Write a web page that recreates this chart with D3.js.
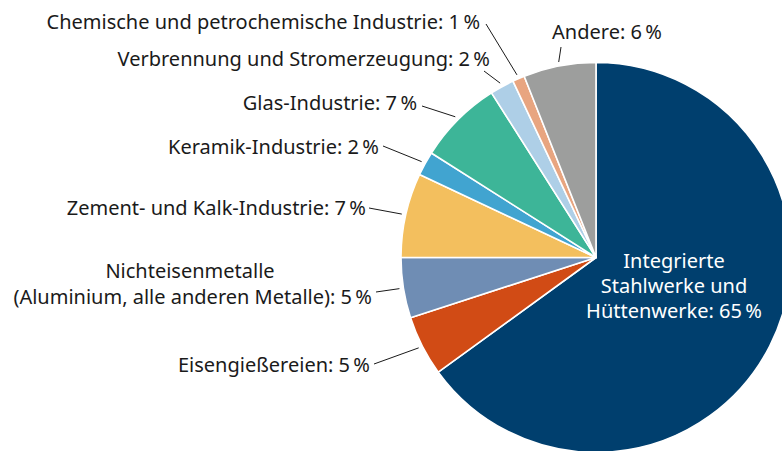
<!DOCTYPE html>
<html lang="de">
<head>
<meta charset="utf-8">
<script src="https://cdn.jsdelivr.net/npm/d3@7"></script>
<style>
  html, body { margin: 0; padding: 0; background: #fff; }
  svg { display: block; font-family: "Noto Sans", "Open Sans", sans-serif; }
</style>
</head>
<body>
<svg id="chart" width="782" height="451"></svg>
<script>
// Sectors, in clockwise order from 12 o'clock
const categories = [
  "Integrierte Stahlwerke und Hüttenwerke",
  "Eisengießereien",
  "Nichteisenmetalle (Aluminium, alle anderen Metalle)",
  "Zement- und Kalk-Industrie",
  "Keramik-Industrie",
  "Glas-Industrie",
  "Verbrennung und Stromerzeugung",
  "Chemische und petrochemische Industrie",
  "Andere"
];
const shares = [65, 5, 5, 7, 2, 7, 2, 1, 6];
const colors = ["#003f6e", "#d14b15", "#6f8db4", "#f3bf5e", "#41a4d0",
                "#3db598", "#aecfe7", "#e8a580", "#9d9e9d"];

// Label text lines per sector
const labelLines = [
  ["Integrierte", "Stahlwerke und", "Hüttenwerke: 65\u202F%"],
  ["Eisengießereien: 5\u202F%"],
  ["Nichteisenmetalle", "(Aluminium, alle anderen Metalle): 5\u202F%"],
  ["Zement- und Kalk-Industrie: 7\u202F%"],
  ["Keramik-Industrie: 2\u202F%"],
  ["Glas-Industrie: 7\u202F%"],
  ["Verbrennung und Stromerzeugung: 2\u202F%"],
  ["Chemische und petrochemische Industrie: 1\u202F%"],
  ["Andere: 6\u202F%"]
];

// Label layout: baseline of the last line, alignment and leader line start
const labelLayout = [
  { x: 674, y: 268, anchor: "middle", inside: true },
  { x: 370, y: 372, anchor: "end", lx: 374, ly: 364 },
  { x: 372, y: 304, anchor: "end", lx: 376, ly: 292, firstAnchor: "middle", firstX: 190 },
  { x: 366, y: 215, anchor: "end", lx: 369, ly: 208 },
  { x: 379, y: 154, anchor: "end", lx: 383, ly: 146 },
  { x: 417, y: 110, anchor: "end", lx: 422, ly: 106 },
  { x: 490, y: 66, anchor: "end", lx: 484, ly: 71 },
  { x: 480, y: 29, anchor: "end", lx: 486, ly: 24 },
  { x: 607, y: 39, anchor: "middle", lx: 561, ly: 47 }
];

const cx = 596, cy = 257.5, R = 195;
const fontSize = 20;

const svg = d3.select("#chart");
const g = svg.append("g").attr("transform", `translate(${cx},${cy})`);

const pie = d3.pie().sort(null).value(d => d)(shares);
const arc = d3.arc().innerRadius(0).outerRadius(R);

g.selectAll("path.slice")
  .data(pie)
  .join("path")
  .attr("class", "slice")
  .attr("d", arc)
  .attr("fill", (d, i) => colors[i])
  .attr("stroke", "#fff")
  .attr("stroke-width", 1.6)
  .attr("stroke-linejoin", "round");

// Leader lines from labels to the rim of each slice
const rimArc = d3.arc().innerRadius(R + 4).outerRadius(R + 4);
const leaders = pie.map((d, i) => ({ d, i, L: labelLayout[i] })).filter(o => !o.L.inside);
svg.selectAll("line.leader")
  .data(leaders)
  .join("line")
  .attr("class", "leader")
  .attr("x1", o => o.L.lx)
  .attr("y1", o => o.L.ly)
  .attr("x2", o => cx + rimArc.centroid(o.d)[0])
  .attr("y2", o => cy + rimArc.centroid(o.d)[1])
  .attr("stroke", "#1a1a1a")
  .attr("stroke-width", 1);

// Labels
labelLines.forEach((lines, i) => {
  const L = labelLayout[i];
  const t = svg.append("text")
    .attr("font-size", fontSize)
    .attr("fill", L.inside ? "#ffffff" : "#1a1a1a");
  lines.forEach((s, k) => {
    const useFirst = lines.length > 1 && k === 0 && L.firstAnchor;
    t.append("tspan")
      .attr("x", useFirst ? L.firstX : L.x)
      .attr("y", L.inside ? L.y + k * 25 : L.y - (lines.length - 1 - k) * 26)
      .attr("text-anchor", useFirst ? L.firstAnchor : L.anchor)
      .text(s);
  });
});
</script>
</body>
</html>
